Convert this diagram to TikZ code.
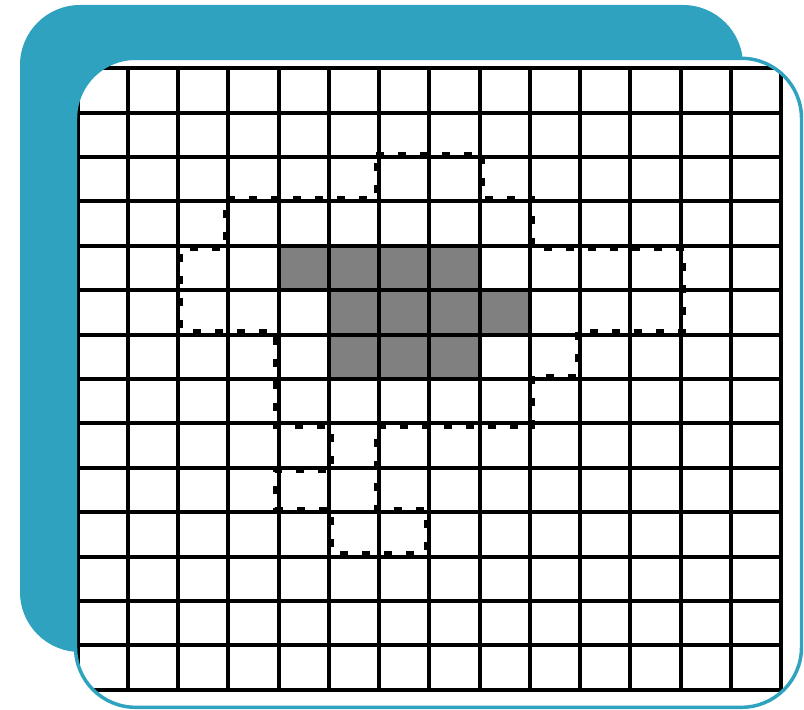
\documentclass[tikz,border=0pt]{standalone}
\usepackage{xcolor}
\usepackage{tikz}
\definecolor{cardblue}{RGB}{46,162,191}
\tikzset{
  gdback/.style={fill=cardblue, draw=none, rounded corners=45pt},
  gdcard/.style={fill=white, draw=none, rounded corners=45pt},
  gdrim/.style={draw=cardblue, line width=2.6pt, rounded corners=45pt},
  gdline/.style={line width=3pt, draw=black, line cap=rect},
  gdcell/.style={fill=black!50, draw=none},
  gddash/.style={line width=2.8pt, draw=black, dash pattern=on 6pt off 10.5pt},
  oLU/.style={xshift=-2.6pt, yshift=2.6pt},
  oLD/.style={xshift=-2.6pt, yshift=-2.6pt},
  oRU/.style={xshift=2.6pt, yshift=2.6pt},
  oRD/.style={xshift=2.6pt, yshift=-2.6pt},
}
\begin{document}
\begin{tikzpicture}[x=0.75pt, y=-0.75pt]
\useasboundingbox (0,0) rectangle (804,710);
\path[gdback] (20,5) rectangle (743,652);
\path[gdcard] (75.5,58.3) rectangle (801.5,707.3);
\begin{scope}
\clip[rounded corners=45pt] (75.5,58.3) rectangle (801.5,707.3);
\begin{scope}[shift={(77.5,68.3)}, x=37.69pt, y=-33.29pt]
\fill[gdcell] (4,4) rectangle (8,5);
\fill[gdcell] (5,5) rectangle (9,6);
\fill[gdcell] (5,6) rectangle (8,7);
\foreach \i in {0,...,14} {
  \draw[gdline] (\i,0) -- (\i,14);
  \draw[gdline] (0,\i) -- (14,\i);
}
\draw[gddash] ([oLU]6,2) -- ([oRU]8,2) -- ([oRU]8,3) -- ([oRU]9,3) -- ([oRD]9,4)
  -- ([oRD]12,4) -- ([oRU]12,6) -- ([oLU]10,6) -- ([oLU]10,7) -- ([oRU]9,7)
  -- ([oRD]9,8) -- ([oLD]6,8) -- ([oLU]6,10) -- ([oLU]7,10) -- ([oLU]7,11)
  -- ([oRU]5,11) -- ([oRU]5,10) -- ([oLU]4,10) -- ([oLD]4,9) -- ([oRD]5,9)
  -- ([oRD]5,8) -- ([oLD]4,8) -- ([oLU]4,6) -- ([oRU]2,6) -- ([oRD]2,4)
  -- ([oLD]3,4) -- ([oLU]3,3) -- ([oLU]6,3) -- cycle;
\end{scope}
\end{scope}
\draw[gdrim] (75.5,58.3) rectangle (801.5,707.3);
\end{tikzpicture}
\end{document}
